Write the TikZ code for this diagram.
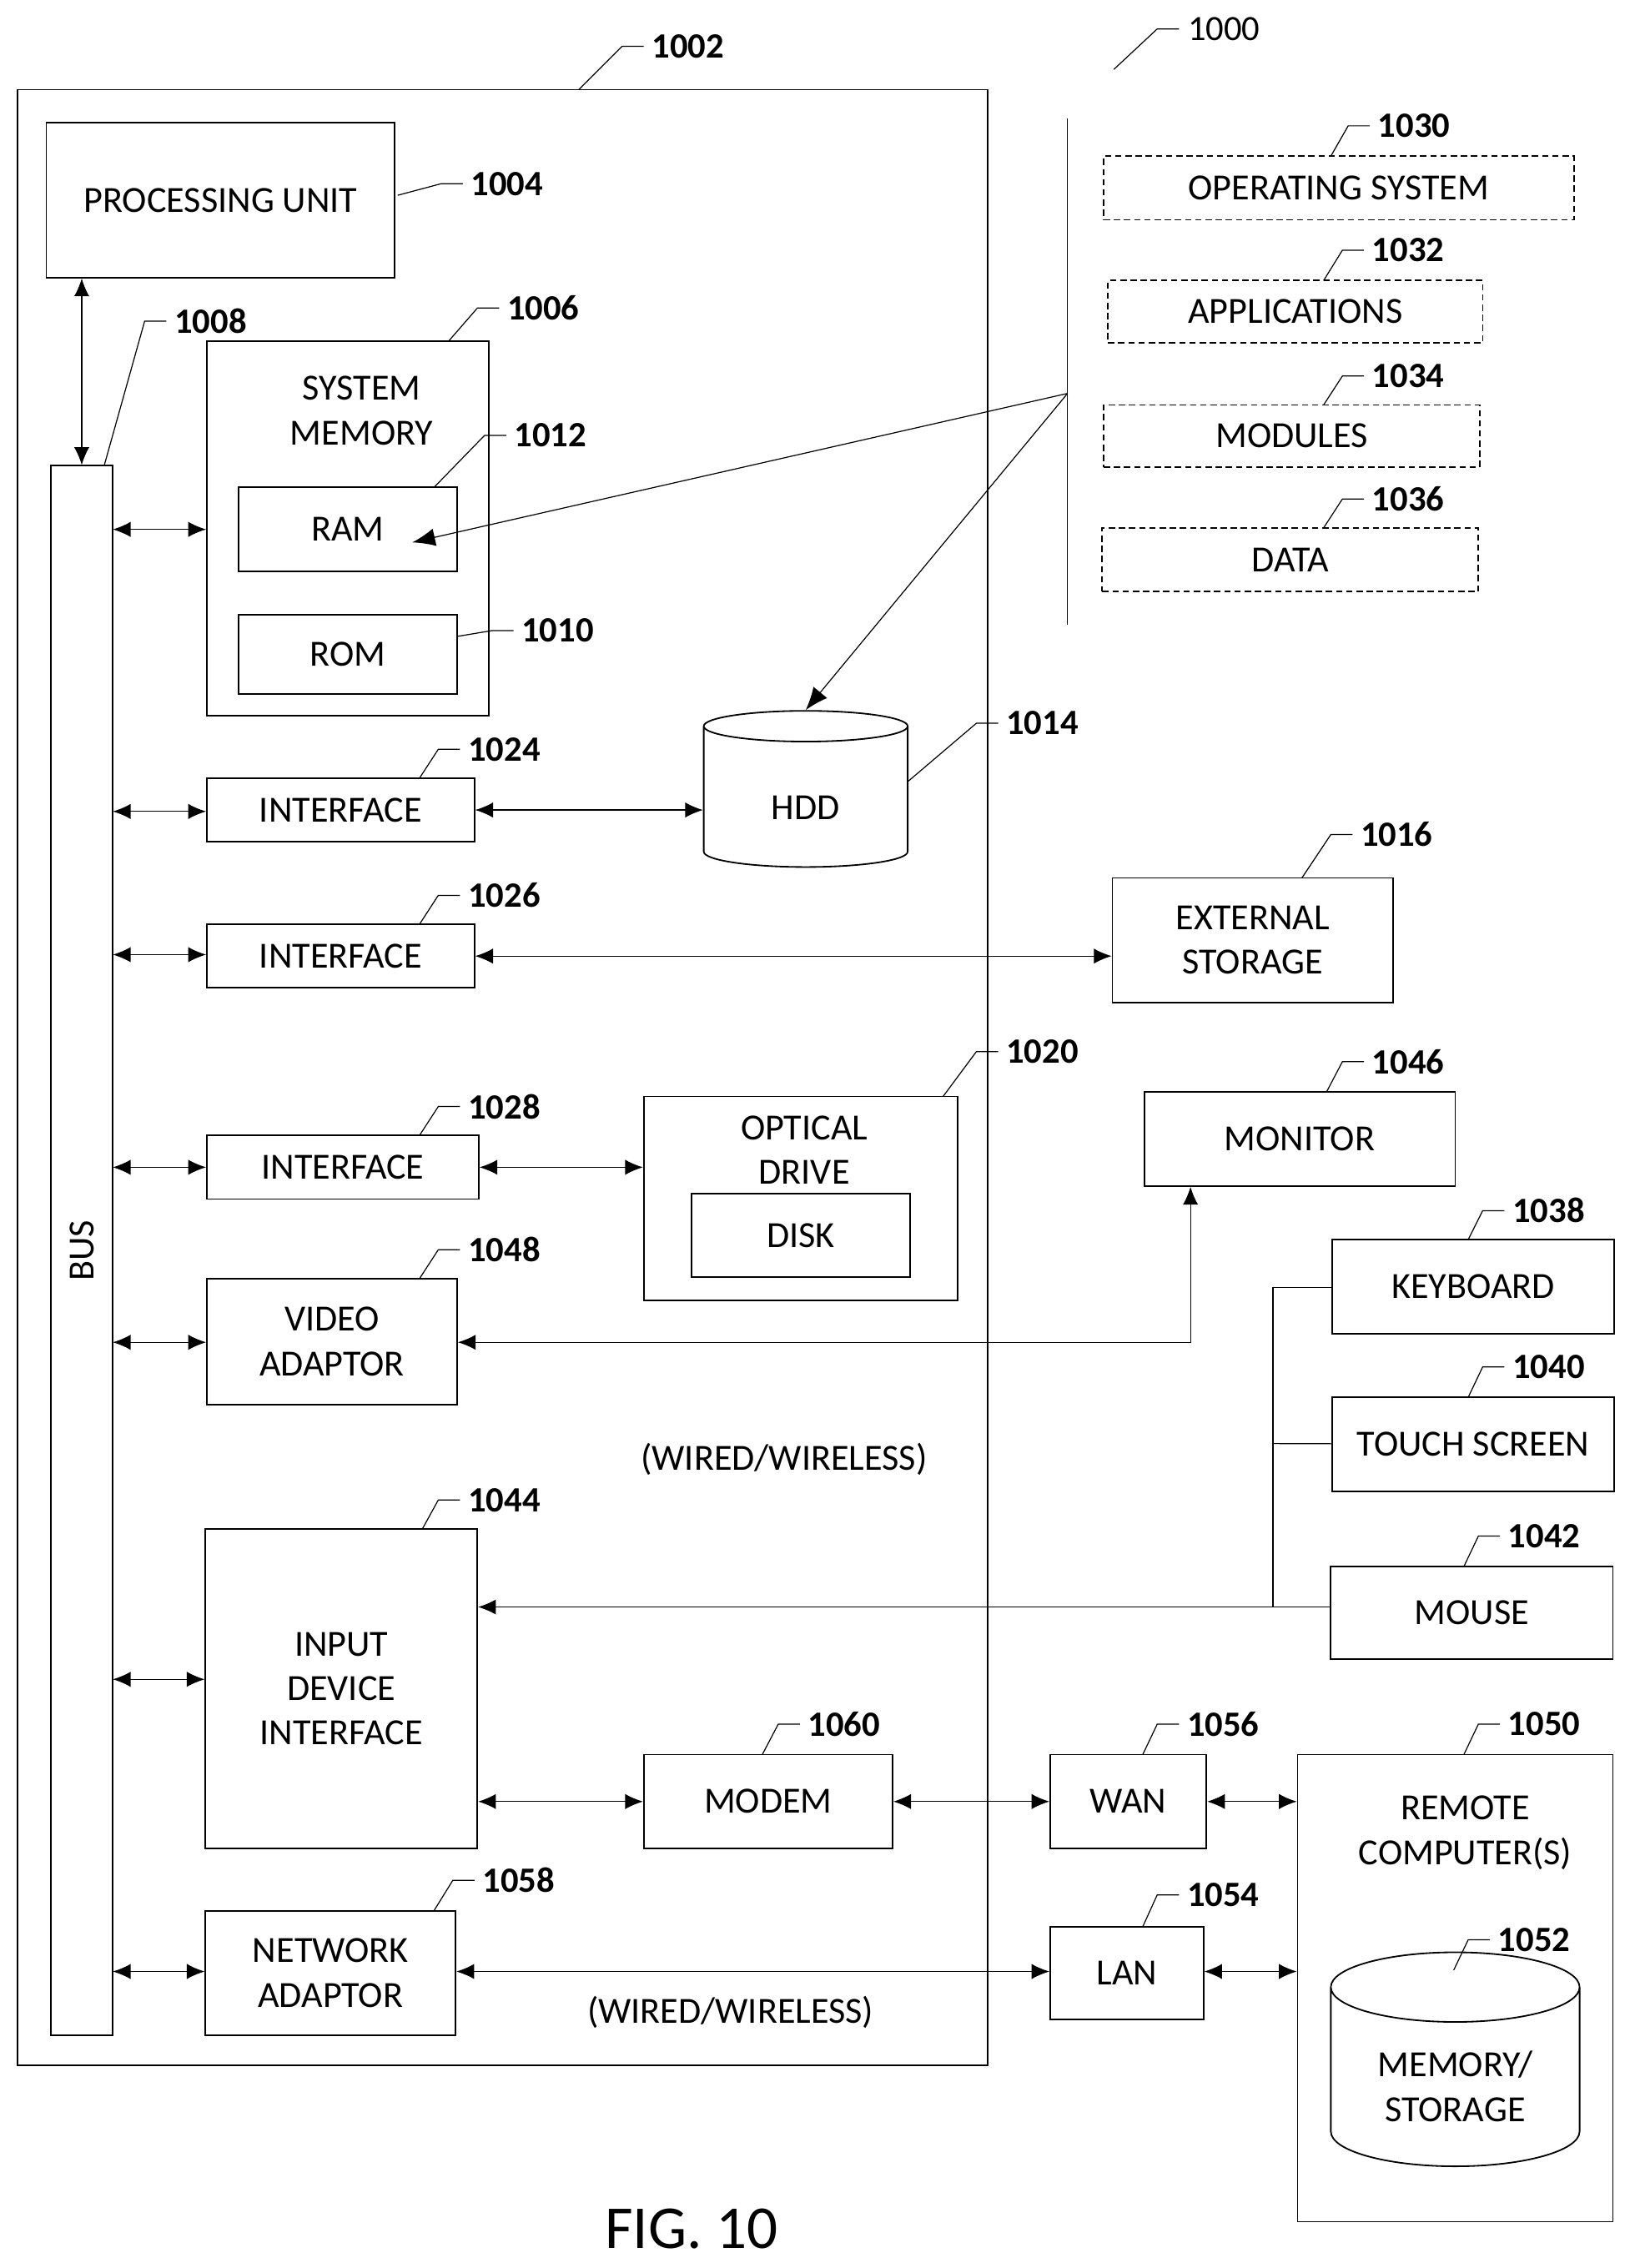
\documentclass[tikz,border=0pt]{standalone}
\usepackage{fontspec}
\setmainfont{Carlito}
\usetikzlibrary{arrows.meta,fit,shapes.geometric}

\begin{document}
\begin{tikzpicture}[
                            x=0.02cm,
                            y=-0.02cm,
                            font=\fontsize{14.5}{17.5}\selectfont,
                            semithick,
                            box/.style={draw,inner sep=0pt},
                            say/.style={label={[align=center]center:#1}},
                            dbox/.style={box,dash pattern=on 2.5pt off 1.5pt},
                            link/.style={{Latex[length=7pt,width=6pt]}-{Latex[length=7pt,width=6pt]}},
                            ref/.style={font=\fontsize{14}{16}\selectfont\bfseries,right,inner sep=3pt},
                            store/.style={draw,cylinder,shape border rotate=90,aspect=0.45,align=center,inner sep=0pt}
                        ]
                        \useasboundingbox (0,0) rectangle (1130,1568);
                        \newcommand{\callout}[3]{\draw[thin] (#1) -- (#2) -- ++(15,0) node[ref] {#3};}

                        % computer
                        \node[box,fit={(12,62) (683,1428)}]                           (pc) {};
                        \node[box,fit={(32,85) (273,192)},say=PROCESSING UNIT]        (cpu) {};
                        \node[box,fit={(35,322) (78,1407)}]                           (bus) {};
                        \node[rotate=90] at (bus) {BUS};
                        \node[box,fit={(143,236) (338,495)}]                          (mem) {};
                        \node[align=center] at (250,284)                              {SYSTEM\\MEMORY};
                        \node[box,fit={(165,337) (316,395)},say=RAM]                  (ram) {};
                        \node[box,fit={(165,425) (316,480)},say=ROM]                  (rom) {};
                        \node[store,minimum width=2.82cm,minimum height=2.16cm] (hdd) at (557,551) {\\HDD};
                        \node[box,fit={(143,538) (328,582)},say=INTERFACE]            (if1) {};
                        \node[box,fit={(143,639) (328,683)},say=INTERFACE]            (if2) {};
                        \node[box,fit={(143,785) (331,829)},say=INTERFACE]            (if3) {};
                        \node[box,fit={(445,758) (662,899)}]                          (odd) {};
                        \node[align=center] at (556,795)                              {OPTICAL\\DRIVE};
                        \node[box,fit={(478,825) (629,883)},say=DISK]                 (disk) {};
                        \node[box,fit={(143,884) (316,971)},say={VIDEO\\ADAPTOR}]     (video) {};
                        \node[box,fit={(142,1057) (330,1278)},say={INPUT\\DEVICE\\INTERFACE}] (input) {};
                        \node[box,fit={(445,1213) (617,1278)},say=MODEM]              (modem) {};
                        \node[box,fit={(142,1321) (315,1407)},say={NETWORK\\ADAPTOR}] (net) {};

                        % outside
                        \node[box,fit={(769,607) (963,693)},say={EXTERNAL\\STORAGE}]  (ext) {};
                        \node[box,fit={(791,755) (1006,820)},say=MONITOR]             (mon) {};
                        \node[box,fit={(921,857) (1116,922)},say=KEYBOARD]            (kbd) {};
                        \node[box,fit={(921,966) (1116,1031)},say=TOUCH SCREEN]       (touch) {};
                        \node[box,fit={(920,1083) (1115,1147)},say=MOUSE]             (mouse) {};
                        \node[box,fit={(726,1213) (834,1278)},say=WAN]                (wan) {};
                        \node[box,fit={(726,1332) (832,1396)},say=LAN]                (lan) {};
                        \node[box,fit={(897,1213) (1115,1536)}]                       (remote) {};
                        \node[align=center] at (1013,1267)                            {REMOTE\\COMPUTER(S)};
                        \node[store,minimum width=3.44cm,minimum height=2.96cm] (rmem) at (1006,1436) {\\MEMORY/\\STORAGE};

                        % software
                        \node[dbox,fit={(763,108) (1088,152)},say=OPERATING SYSTEM]   (os) {};
                        \node[dbox,fit={(766,194) (1025,237)},say=APPLICATIONS]       (apps) {};
                        \node[dbox,fit={(763,280) (1023,323)},say=MODULES]            (mods) {};
                        \node[dbox,fit={(762,365) (1022,409)},say=DATA]               (data) {};
                        \draw[thin] (738,82) -- (738,432);
                        \coordinate (sw) at (738,272);
                        \draw[thin,-{Latex[length=9pt,width=7pt]}] (sw) -- (285,375);
                        \draw[thin,-{Latex[length=9pt,width=7pt]}] (sw) -- (hdd.north);

                        % bus links
                        \draw[thin,link] (cpu.south -| bus) -- (bus.north);
                        \foreach \n/\y in {mem/366,if1/561,if2/660,if3/807,video/928,input/1161,net/1363}
                            \draw[thin,link] (78,\y) -- (\n.west |- 78,\y);

                        % device links
                        \draw[thin,link] (if1) -- (hdd.west |- if1);
                        \draw[thin,link] (if2) -- (ext.west |- if2);
                        \draw[thin,link] (if3) -- (odd.west |- if3);
                        \draw[thin,link] (video.east |- 0,928) -| (mon.south -| 823,0);
                        \draw[thin] (kbd.west |- 0,890) -- (880,890) -- (880,1111);
                        \draw[thin] (touch) -- (880,998);
                        \draw[thin,-{Latex[length=7pt,width=6pt]}] (mouse.west |- 0,1111) -- (input.east |- 0,1111);
                        \draw[thin,link] (input.east |- modem) -- (modem);
                        \draw[thin,link] (modem) -- (wan);
                        \draw[thin,link] (wan) -- (remote.west |- wan);
                        \draw[thin,link] (net.east |- 0,1363) -- (lan.west |- 0,1363);
                        \draw[thin,link] (lan.east |- 0,1363) -- (remote.west |- 0,1363);

                        \node at (542,1009) {(WIRED/WIRELESS)};
                        \node at (505,1391) {(WIRED/WIRELESS)};
                        \node[font=\fontsize{24}{28}\selectfont] at (478,1541) {FIG. 10};

                        % reference numerals
                        \draw[thin] (770,48) -- (800,20) -- ++(15,0) node[right,font=\fontsize{14}{16}\selectfont] {1000};
                        \callout{400,62}{430,32}{1002}
                        \callout{275,135}{305,127}{1004}
                        \callout{310,236}{330,213}{1006}
                        \callout{72,322}{100,222}{1008}
                        \callout{300,337}{335,301}{1012}
                        \callout{316,440}{340,436}{1010}
                        \callout{628,540}{675,500}{1014}
                        \callout{290,538}{303,518}{1024}
                        \callout{290,639}{303,619}{1026}
                        \callout{290,785}{303,765}{1028}
                        \callout{290,884}{303,864}{1048}
                        \callout{292,1057}{303,1037}{1044}
                        \callout{527,1213}{538,1192}{1060}
                        \callout{300,1321}{313,1300}{1058}
                        \callout{652,758}{675,727}{1020}
                        \callout{900,607}{920,577}{1016}
                        \callout{917,755}{928,734}{1046}
                        \callout{1015,857}{1025,837}{1038}
                        \callout{1015,966}{1025,945}{1040}
                        \callout{1012,1083}{1022,1062}{1042}
                        \callout{790,1213}{800,1192}{1056}
                        \callout{1012,1213}{1022,1192}{1050}
                        \callout{790,1332}{800,1310}{1054}
                        \callout{1005,1362}{1015,1341}{1052}
                        \callout{920,108}{932,87}{1030}
                        \callout{915,194}{928,173}{1032}
                        \callout{915,280}{928,260}{1034}
                        \callout{915,365}{928,345}{1036}
                    \end{tikzpicture}
\end{document}
